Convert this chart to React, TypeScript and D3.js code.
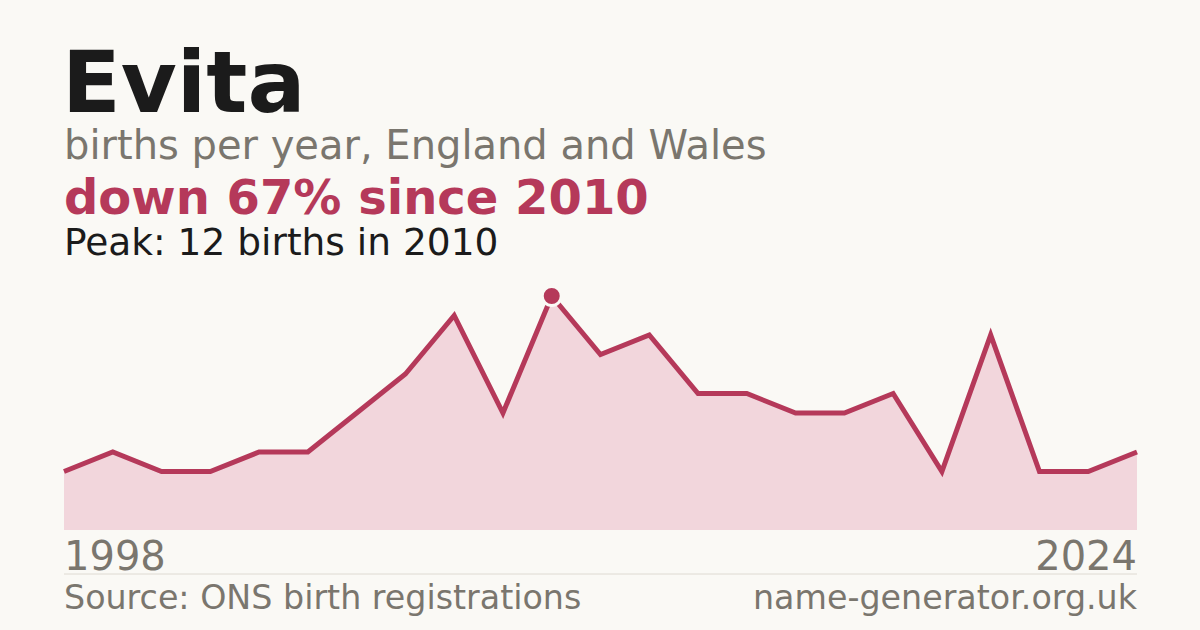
import * as d3 from "d3";

// Years with a published count (years under 3 births are suppressed by ONS)
const years = [
  1998, 1999, 2001, 2002, 2003, 2004, 2006, 2007, 2008, 2009, 2010, 2011,
  2012, 2013, 2014, 2016, 2017, 2018, 2019, 2020, 2022, 2023, 2024,
];
const births = [3, 4, 3, 3, 4, 4, 6, 8, 11, 6, 12, 9, 10, 7, 7, 6, 6, 7, 3, 10, 3, 3, 4];

const title = "Evita";
const subtitle = "births per year, England and Wales";
const headline = "down 67% since 2010";
const peakLine = "Peak: 12 births in 2010";
const source = "Source: ONS birth registrations";
const site = "name-generator.org.uk";

const W = 1200;
const H = 630;
const left = 64;
const right = 1137;
const top = 296;
const bottom = 530;

const accent = "#b5395a";
const grey = "#7a766e";

export default function App() {
  const x = d3.scalePoint<number>().domain(years).range([left, right]);
  const y = d3.scaleLinear().domain([0, d3.max(births)!]).range([bottom, top]);

  const pts = years.map((yr, i) => ({ yr, v: births[i] }));
  const line = d3.line<{ yr: number; v: number }>().x((d) => x(d.yr)!).y((d) => y(d.v));
  const area = d3
    .area<{ yr: number; v: number }>()
    .x((d) => x(d.yr)!)
    .y0(bottom)
    .y1((d) => y(d.v));

  const peakIdx = d3.maxIndex(births);
  const font = "'DejaVu Sans', sans-serif";

  return (
    <svg
      width={W}
      height={H}
      viewBox={`0 0 ${W} ${H}`}
      style={{ position: "fixed", left: 0, top: 0, display: "block" }}
    >
      <rect width={W} height={H} fill="#faf9f5" />
      <g fontFamily={font}>
        <text x={left - 2} y={112} fontSize={86} fontWeight="bold" fill="#1b1b1b">
          {title}
        </text>
        <text x={left} y={159} fontSize={40} fill={grey}>
          {subtitle}
        </text>
        <text x={left} y={214} fontSize={48} fontWeight="bold" fill={accent}>
          {headline}
        </text>
        <text x={left} y={254.5} fontSize={37.5} fill="#1b1b1b">
          {peakLine}
        </text>
      </g>

      <path d={area(pts) || undefined} fill="#f2d6dc" />
      <path
        d={line(pts) || undefined}
        fill="none"
        stroke={accent}
        strokeWidth={5}
        strokeLinejoin="miter"
      />
      <circle
        cx={x(years[peakIdx])}
        cy={y(births[peakIdx])}
        r={9.5}
        fill={accent}
        stroke="#faf9f5"
        strokeWidth={3}
      />

      <g fontFamily={font} fontSize={40} fill={grey}>
        <text x={left} y={570}>
          {years[0]}
        </text>
        <text x={right} y={570} textAnchor="end">
          {years[years.length - 1]}
        </text>
      </g>
      <line x1={left} x2={right} y1={574} y2={574} stroke="#dedad2" strokeWidth={1} />
      <g fontFamily={font} fontSize={33.3} fill={grey}>
        <text x={left} y={609}>
          {source}
        </text>
        <text x={right} y={609} textAnchor="end">
          {site}
        </text>
      </g>
    </svg>
  );
}
